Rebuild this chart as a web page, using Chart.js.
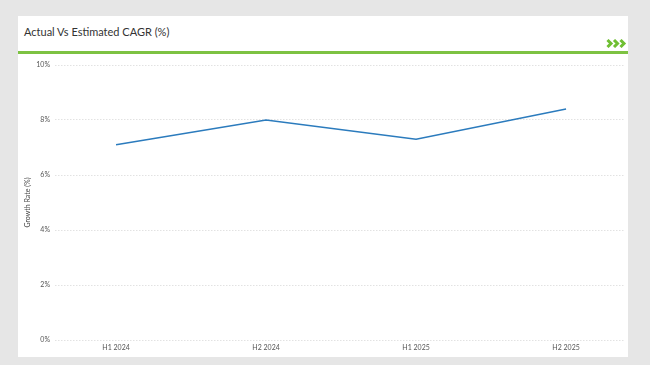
<!DOCTYPE html>
<html>
<head>
<meta charset="utf-8">
<script src="https://cdn.jsdelivr.net/npm/chart.js@4.4.1/dist/chart.umd.min.js"></script>
<style>
  html, body { margin: 0; padding: 0; }
  body { width: 650px; height: 365px; background: #e6e6e6; position: relative; overflow: hidden; font-family: Lato, "Open Sans", sans-serif; }
  .card { position: absolute; left: 18px; top: 16px; width: 610px; height: 341px; background: #fff; }
  .title { position: absolute; left: 6px; top: 9px; font-size: 11px; color: #333; }
  .rule { position: absolute; left: 0; top: 35px; width: 610px; height: 3px; background: #7dc242; }
  .chev { position: absolute; left: 588px; top: 23px; }
  .plot { position: absolute; left: 0; top: 39px; width: 610px; height: 302px; }
</style>
</head>
<body>
<div class="card">
  <div class="title">Actual Vs Estimated CAGR (%)</div>
  <svg class="chev" width="21" height="9" viewBox="0 0 21 9">
    <polyline points="1.5,1 5,4.5 1.5,8" fill="none" stroke="#6fbf32" stroke-width="3"/>
    <polyline points="8,1 11.5,4.5 8,8" fill="none" stroke="#6fbf32" stroke-width="3"/>
    <polyline points="14.5,1 18,4.5 14.5,8" fill="none" stroke="#6fbf32" stroke-width="3"/>
  </svg>
  <div class="rule"></div>
  <div class="plot"><canvas id="chart"></canvas></div>
</div>
<script>
const periods = ['H1 2024', 'H2 2024', 'H1 2025', 'H2 2025'];
const growthRates = [7.1, 8.0, 7.3, 8.4];
const yMin = 0;
const yMax = 10;
const yStep = 2;

const tickFont = { family: 'Lato, "Open Sans", sans-serif', size: 7 };

// eslint-disable-next-line no-new
new Chart(document.getElementById('chart'), {
  type: 'line',
  data: {
    datasets: [{
      data: growthRates.map((v, i) => ({ x: i, y: v })),
      borderColor: '#2b7bbd',
      borderWidth: 1.5,
      pointRadius: 0,
      tension: 0,
      fill: false
    }]
  },
  options: {
    responsive: true,
    maintainAspectRatio: false,
    animation: false,
    layout: { padding: { left: 0, right: 3, top: 10, bottom: 0 } },
    plugins: { legend: { display: false }, tooltip: { enabled: false } },
    scales: {
      x: {
        type: 'linear',
        min: -0.407,
        max: 3.393,
        afterBuildTicks: (scale) => {
          scale.ticks = periods.map((_, i) => ({ value: i }));
        },
        afterFit: (scale) => { scale.height = 17; },
        grid: { display: false, drawTicks: false },
        border: { display: false },
        ticks: {
          font: tickFont,
          color: '#555',
          padding: 4,
          maxRotation: 0,
          callback: (v) => periods[v] ?? ''
        }
      },
      y: {
        min: yMin,
        max: yMax,
        afterFit: (scale) => { scale.width = 37; },
        grid: { color: '#e2e2e2', drawTicks: false, lineWidth: 1 },
        border: { display: false, dash: [1.5, 1.5] },
        ticks: {
          stepSize: yStep,
          font: tickFont,
          color: '#555',
          padding: 5,
          callback: (v) => v + '%'
        },
        title: {
          display: true,
          text: 'Growth Rate (%)',
          font: tickFont,
          color: '#444',
          padding: { top: 6, bottom: 0 }
        }
      }
    }
  }
});
</script>
</body>
</html>
